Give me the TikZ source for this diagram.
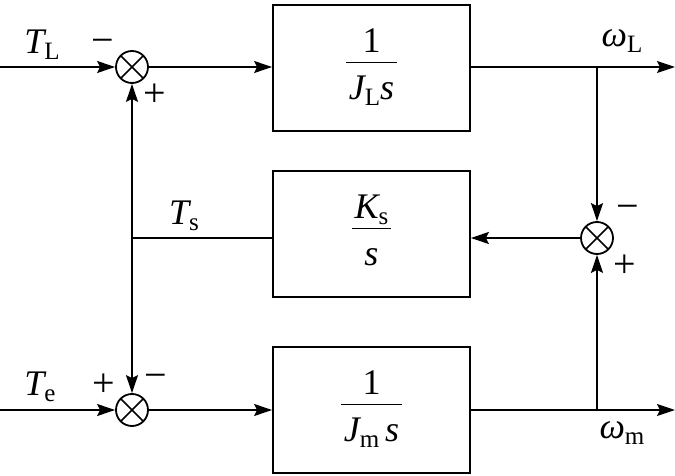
\documentclass[tikz,border=0pt]{standalone}
\usepackage{fontspec}
\setmainfont{Liberation Serif}
\usetikzlibrary{arrows.meta}
\newcommand{\lsub}[1]{\raisebox{-0.35ex}{\upshape\fontsize{25}{25}\selectfont #1}}
\newcommand{\fracbox}[2]{\begin{tabular}{@{\hspace{3pt}}c@{\hspace{3pt}}}#1\\[-3pt]\noalign{\hrule height 1.8pt}\rule{0pt}{36pt}#2\end{tabular}}
\tikzset{
  blk/.style={draw, line width=1.8pt, minimum width=197pt, minimum height=126pt, inner sep=0pt,
    font=\fontsize{36}{40}\selectfont},
  sumj/.style={draw, circle, line width=1.8pt, minimum size=32pt, inner sep=0pt,
    path picture={\draw[line width=1.6pt] (path picture bounding box.north west) -- (path picture bounding box.south east)
      (path picture bounding box.north east) -- (path picture bounding box.south west);}},
  wire/.style={line width=1.8pt},
  arr/.style={wire, -{Stealth[length=18pt,width=12pt,inset=3pt]}},
  lbl/.style={inner sep=0pt, font=\fontsize{36}{40}\selectfont},
  sgn/.style={inner sep=0pt, font=\fontsize{40}{44}\selectfont},
}
\begin{document}
\begin{tikzpicture}[x=1pt,y=-1pt]
\useasboundingbox (0,0) rectangle (675,476);
\node[blk] (b1) at (371.5,68) {\fracbox{1}{\itshape J\lsub{L}s}};
\node[blk] (b2) at (371.5,234) {\fracbox{\itshape K\lsub{s}}{\itshape s}};
\node[blk] (b3) at (371.5,410) {\fracbox{1}{\itshape J\lsub{m}\,s}};
\node[sumj] (s1) at (132,67) {};
\node[sumj] (s2) at (132,410) {};
\node[sumj] (s3) at (597,238) {};
\coordinate (in1) at (0,67);
\coordinate (in2) at (0,410);
\coordinate (out1) at (675,67);
\coordinate (out2) at (675,410);
\coordinate (br1) at (597,67);
\coordinate (br2) at (597,410);
\coordinate (jn) at (132,238);
% wires
\draw[arr] (in1) -- (s1);
\draw[arr] (in2) -- (s2);
\draw[arr] (s1) -- (b1.west |- s1);
\draw[arr] (s2) -- (b3.west |- s2);
\draw[arr] (b1.east |- br1) -- (out1);
\draw[arr] (b3.east |- br2) -- (out2);
\draw[arr] (br1) -- (s3);
\draw[arr] (br2) -- (s3);
\draw[arr] (s3) -- (b2.east |- s3);
\draw[wire] (b2.west |- jn) -- (jn);
\draw[arr] (jn) -- (s1);
\draw[arr] (jn) -- (s2);
% labels
\node[lbl] (tl) at (42,45) {\itshape T\lsub{L}};
\node[lbl] (te) at (40,387) {\itshape T\lsub{e}};
\node[lbl] (ts) at (184,216) {\itshape T\lsub{s}};
\node[lbl] (wl) at (622,41) {\itshape ω\lsub{L}};
\node[lbl] (wm) at (622,433) {\itshape ω\lsub{m}};
\node[sgn] (m1) at (103,46) {−};
\node[sgn] (p1) at (155,95) {+};
\node[sgn] (p2) at (104,385) {+};
\node[sgn] (m2) at (156,381) {−};
\node[sgn] (m3) at (628,212) {−};
\node[sgn] (p3) at (625,266) {+};
\end{tikzpicture}
\end{document}
